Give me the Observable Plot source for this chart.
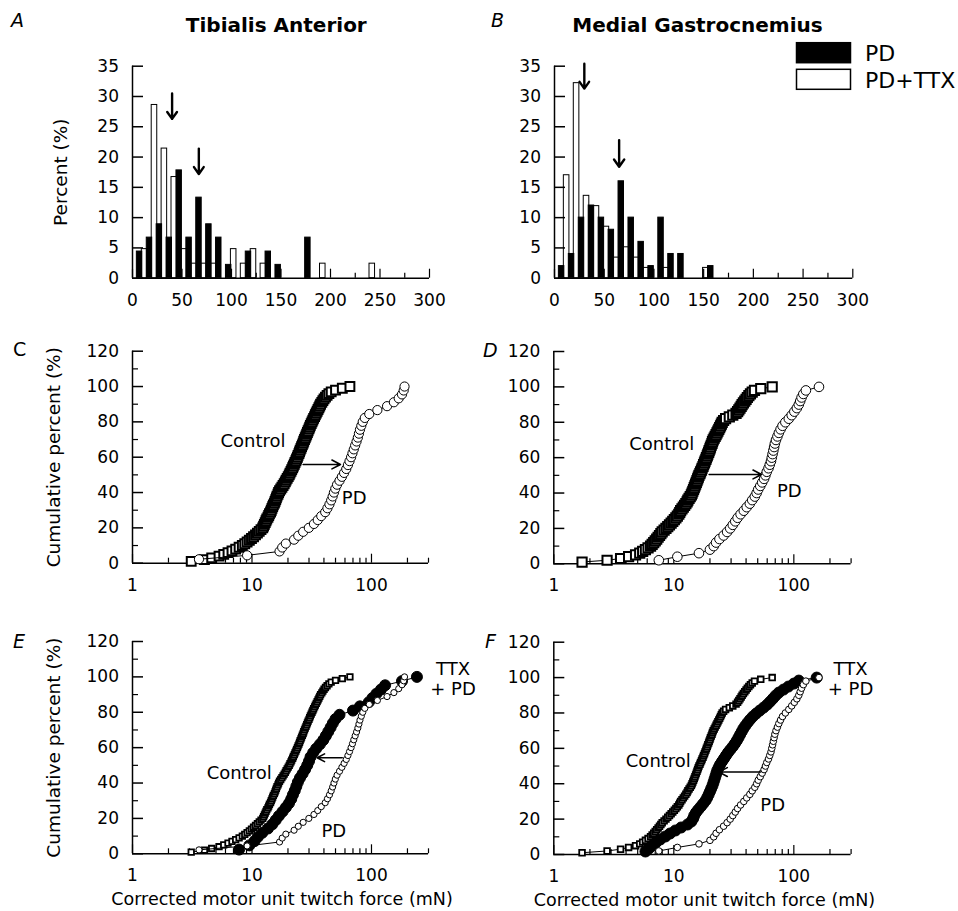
<!DOCTYPE html>
<html><head><meta charset="utf-8">
<script src="https://cdn.jsdelivr.net/npm/d3@7"></script>
<script src="https://cdn.jsdelivr.net/npm/@observablehq/plot@0.6"></script>
<style>
body{margin:0;background:#fff;}
#fig{position:relative;width:958px;height:911px;overflow:hidden;background:#fff;}
</style></head><body><div id="fig"></div>
<script>
// ---------------- DATA ----------------
// Histogram bins (mN, width 10)
const binStarts = [0,10,20,30,40,50,60,70,80,90,100,110,120,130,140,150,160,170,180,190,200,210,220,230,240,250,260,270,280,290];
// Tibialis anterior, percent of units per bin
const taPD  = [4.4,6.7,8.9,6.7,17.8,6.7,13.3,8.9,6.7,2.2,0,4.4,0,4.4,2.2,0,0,6.7,0,0,0,0,0,0,0,0,0,0,0,0];
const taTTX = [0,4.8,28.6,21.4,16.7,4.8,2.4,2.4,2.4,0,4.8,2.4,4.8,2.4,0,0,0,0,0,2.4,0,0,0,0,2.4,0,0,0,0,0];
// Medial gastrocnemius
const mgPD  = [2,4,10,12,10,8,16,10,6,2,10,4,4,0,0,2,0,0,0,0,0,0,0,0,0,0,0,0,0,0];
const mgTTX = [0,17.0,32.2,13.6,11.9,8.5,3.4,5.1,3.4,1.7,0,1.7,0,0,0,1.7,0,0,0,0,0,0,0,0,0,0,0,0,0,0];
// mean arrows (mN) and their vertical extent (%)
const taArrowX = [40, 67], taArrowTop = [30.5, 21.4], taArrowTip = [26.3, 17.2];
const mgArrowX = [30, 65], mgArrowTop = [35.4, 22.8], mgArrowTip = [31.3, 18.4];
const histYTicks = [0,5,10,15,20,25,30,35];
const histXMajor = [0,50,100,150,200,250,300];
const histXMinor = [25,75,125,175,225,275];

// Cumulative distributions: sorted corrected twitch forces (mN)
const controlTA = [3.1,4.0,4.6,5.3,5.8,6.3,6.8,7.3,7.8,8.3,
 8.7,9.1,9.5,9.9,10.3,10.7,11.1,11.5,11.9,12.3,
 12.5,12.7,12.9,13.1,13.3,13.6,13.8,14.0,14.3,14.5,
 14.7,14.9,15.1,15.4,15.6,15.8,16.0,16.2,16.5,16.7,
 17.0,17.4,17.8,18.2,18.6,19.0,19.3,19.7,20.1,20.5,
 20.8,21.2,21.5,21.9,22.2,22.6,22.9,23.3,23.6,24.0,
 24.3,24.7,25.0,25.3,25.7,26.0,26.4,26.8,27.1,27.5,
 27.9,28.3,28.7,29.1,29.5,30.0,30.4,30.8,31.3,31.8,
 32.3,32.8,33.4,33.9,34.5,35.1,35.7,36.3,36.9,37.5,
 38.4,39.2,40.1,41.2,42.5,44.0,46.0,50.0,57.0,66.0];
const pdTA = [3.6,9.1,17.0,17.9,19.2,22.5,24.4,26.8,29.9,33.0,
 35.5,38.0,41.0,42.8,44.5,46.0,47.3,48.5,49.8,51.5,
 54.0,56.5,59.0,61.5,63.5,65.5,67.5,69.3,71.1,73.0,
 75.0,76.9,78.5,80.1,82.2,84.5,87.9,95.8,112,135,
 154,169,180,186,189];
const ttxTA = [7.8,9.5,10.5,11.2,12.2,13.6,14.8,15.8,16.8,18.0,
 19.2,20.4,21.3,22.0,22.8,23.5,24.2,25.2,26.5,27.8,
 29.0,30.0,30.9,32.5,34.5,37.0,39.5,41.5,43.5,45.5,
 47.5,50.0,54.0,70.0,80.0,95.0,102,110,120,130,
 180,240];
const controlMG = [1.72,2.78,3.6,4.2,4.8,5.2,5.5,5.8,6.1,6.4,
 6.6,6.8,7.0,7.2,7.4,7.6,7.8,8.0,8.3,8.6,
 8.9,9.2,9.5,9.8,10.1,10.4,10.7,11.0,11.2,11.4,
 11.7,12.0,12.3,12.6,12.9,13.1,13.4,13.7,14.0,14.2,
 14.4,14.6,14.8,15.0,15.2,15.4,15.6,15.8,16.0,16.2,
 16.5,16.7,17.0,17.2,17.5,17.7,18.0,18.2,18.5,18.7,
 19.0,19.2,19.5,19.7,20.0,20.2,20.5,20.8,21.0,21.3,
 21.7,22.1,22.5,22.9,23.3,23.7,24.1,24.5,24.9,25.3,
 26.0,27.0,29.0,31.0,33.0,34.0,34.8,35.6,36.4,37.1,
 38.0,39.0,40.0,41.0,42.2,43.5,45.0,47.0,53.0,66.0];
const pdMG = [7.5,10.7,16.2,20.0,21.5,22.5,24.0,26.0,27.8,29.5,
 31.0,32.5,34.0,36.0,38.3,40.5,43.0,45.0,47.3,49.0,
 50.5,52.5,54.5,56.5,58.0,59.5,61.5,63.0,64.5,65.5,
 66.5,67.5,68.5,69.5,71.0,73.0,75.0,77.5,80.5,85.0,
 90.8,96.0,101,106,110,113,116,120,126,162];
const ttxMG = [5.8,6.2,6.6,7.1,7.7,8.5,9.3,10.3,11.5,13.0,
 14.0,14.5,14.8,15.3,16.0,16.8,17.6,18.4,19.0,19.5,
 20.0,20.5,21.0,21.4,21.8,22.2,22.6,23.0,23.6,24.3,
 25.2,26.2,27.2,28.3,29.6,31.0,32.3,33.5,34.6,35.7,
 36.8,38.0,39.5,41.2,43.2,45.5,48.5,52.0,56.0,60.0,
 63.5,67.0,70.5,75.0,82.0,90.0,100,110,155];
const cumYMajor = [0,20,40,60,80,100,120];
const cumYMinor = [10,30,50,70,90,110];
const logMajor = [1,10,100];
const logMinor = [2,3,4,5,6,7,8,9,20,30,40,50,60,70,80,90,200,300];
// shift arrows (x1 -> x2 at level y, %)
const arrowC = {x1: 26.8, x2: 55, y: 55.9};
const arrowD = {x1: 19.7, x2: 53.8, y: 50.5};
const arrowE = {x1: 56.9, x2: 35.1, y: 54.3};
const arrowF = {x1: 52.8, x2: 23.7, y: 46.6};
// text annotations (data coordinates)
const labelsC = [{t:"Control", x:10.2, y:69.1}, {t:"PD", x:71.7, y:36.5}];
const labelsD = [{t:"Control", x:7.93, y:67.5}, {t:"PD", x:91.7, y:40.9}];
const labelsE = [{t:"Control", x:7.81, y:45.3}, {t:"PD", x:48.4, y:12.8}, {t:"TTX", x:481, y:104.2}, {t:"+ PD", x:481, y:92.8}];
const labelsF = [{t:"Control", x:7.43, y:52.6}, {t:"PD", x:66.7, y:27.7}, {t:"TTX", x:297, y:104.5}, {t:"+ PD", x:297, y:93.2}];

// ---------------- DRAWING ----------------
const FONT = "DejaVu Sans";
const fig = document.getElementById("fig");

function makePlot(box, frame, x, y, marks) {
  const [bl, bt, bw, bh] = box;
  const [fl, ft, fr, fb] = frame;
  const p = Plot.plot({
    width: bw, height: bh,
    marginLeft: fl - bl, marginTop: ft - bt, marginRight: bl + bw - fr, marginBottom: bt + bh - fb,
    x, y,
    style: {fontFamily: FONT, fontSize: "17px", background: "transparent", overflow: "visible", color: "black"},
    marks: marks.filter(Boolean)
  });
  p.style.position = "absolute";
  p.style.left = bl + "px";
  p.style.top = bt + "px";
  fig.appendChild(p);
}

function histPanel(box, frame, pd, ttx, ax, atop, atip, ylabel) {
  const rows = binStarts.map((b, i) => ({b, pd: pd[i], ttx: ttx[i]}));
  const idx = ax.map((_, i) => i);
  makePlot(box, frame, {type: "linear", domain: [0, 300]}, {type: "linear", domain: [0, 35]}, [
    Plot.rect(rows.filter(d => d.ttx > 0), {x1: d => d.b - 0.6, x2: d => d.b + 5, y1: 0, y2: "ttx", fill: "white", stroke: "black", strokeWidth: 1}),
    Plot.rect(rows.filter(d => d.pd > 0), {x1: d => d.b + 4.4, x2: d => d.b + 9.9, y1: 0, y2: "pd", fill: "black", stroke: "black", strokeWidth: 1}),
    Plot.ruleY([0], {strokeWidth: 1.5}),
    Plot.ruleX([0], {strokeWidth: 1.5}),
    Plot.axisY(histYTicks, {tickSize: -11, fill: "none", label: null, strokeWidth: 1.5}),
    Plot.axisY(histYTicks, {tickSize: 0, tickPadding: 13.5, fontSize: 17, label: null}),
    Plot.axisX(histXMajor, {tickSize: -9, fill: "none", label: null, strokeWidth: 1.2}),
    Plot.axisX(histXMinor, {tickSize: -5, fill: "none", label: null, strokeWidth: 1.2}),
    Plot.axisX(histXMajor, {tickSize: 0, tickPadding: 15.6, fontSize: 17, label: null}),
    Plot.arrow(idx, {x1: i => ax[i], x2: i => ax[i], y1: i => atop[i], y2: i => atip[i], stroke: "black", strokeWidth: 2.4, headLength: 10, headAngle: 70}),
    ylabel ? Plot.text([ylabel], {frameAnchor: "left", textAnchor: "middle", rotate: -90, dx: -71, fontSize: 18.5}) : null
  ]);
}

const ecdf = xs => xs.map((x, i) => ({x, y: (i + 1) / xs.length * 100}));

function cumPanel(box, frame, series, arrow, labels, ylabel, xlabel, xdx) {
  const marks = [
    Plot.ruleY([0], {strokeWidth: 1.5}),
    Plot.ruleX([1], {strokeWidth: 1.5}),
    Plot.axisY(cumYMajor, {tickSize: -11, fill: "none", label: null, strokeWidth: 1.5}),
    Plot.axisY(cumYMinor, {tickSize: -6, fill: "none", label: null, strokeWidth: 1.2}),
    Plot.axisY(cumYMajor, {tickSize: 0, tickPadding: 13.5, fontSize: 17, label: null}),
    Plot.axisX(logMajor, {tickSize: -9, fill: "none", label: null, strokeWidth: 1.2}),
    Plot.axisX(logMinor, {tickSize: -5, fill: "none", label: null, strokeWidth: 1.2}),
    Plot.axisX(logMajor, {tickSize: 0, tickPadding: 15.6, fontSize: 17, label: null, tickFormat: d => String(d)})
  ];
  for (const s of series) {
    const rows = ecdf(s.xs);
    marks.push(Plot.line(rows, {x: "x", y: "y", stroke: "black", strokeWidth: 1}));
    marks.push(Plot.dot(rows, {x: "x", y: "y", symbol: s.symbol, r: s.r, fill: s.fill, stroke: "black", strokeWidth: s.sw}));
  }
  marks.push(Plot.arrow([arrow], {x1: "x1", x2: "x2", y1: "y", y2: "y", stroke: "black", strokeWidth: 1.6, headLength: 9, headAngle: 55}));
  marks.push(Plot.text(labels, {x: "x", y: "y", text: "t", fontSize: 18}));
  if (ylabel) marks.push(Plot.text([ylabel], {frameAnchor: "left", textAnchor: "middle", rotate: -90, dx: -78.7, fontSize: 18.5}));
  if (xlabel) marks.push(Plot.text([xlabel], {frameAnchor: "bottom", textAnchor: "middle", lineAnchor: "bottom", dy: 51.5, dx: xdx, fontSize: 17.5}));
  makePlot(box, frame, {type: "log", domain: [1, 300]}, {type: "linear", domain: [0, 120]}, marks);
}

// Row 1: histograms
histPanel([0, 40, 479, 275], [132, 65.7, 429, 277.7], taPD, taTTX, taArrowX, taArrowTop, taArrowTip, "Percent (%)");
histPanel([479, 40, 479, 275], [554, 65.7, 852.3, 277.7], mgPD, mgTTX, mgArrowX, mgArrowTop, mgArrowTip, null);

// Row 2
cumPanel([0, 320, 479, 280], [132, 350.7, 428, 562.7], [
  {xs: controlTA, symbol: "square", r: 5, fill: "white", sw: 2},
  {xs: pdTA, symbol: "circle", r: 4.6, fill: "white", sw: 1}
], arrowC, labelsC, "Cumulative percent (%)", null, 0);
cumPanel([479, 320, 479, 280], [553.3, 351, 850.6, 563.3], [
  {xs: controlMG, symbol: "square", r: 5.2, fill: "white", sw: 2},
  {xs: pdMG, symbol: "circle", r: 4.8, fill: "white", sw: 1}
], arrowD, labelsD, null, null, 0);

// Row 3
cumPanel([0, 610, 479, 301], [132, 641, 428, 853.3], [
  {xs: controlTA, symbol: "square", r: 3.1, fill: "white", sw: 1.8},
  {xs: ttxTA, symbol: "circle", r: 5.5, fill: "black", sw: 1},
  {xs: pdTA, symbol: "circle", r: 3.1, fill: "white", sw: 1}
], arrowE, labelsE, "Cumulative percent (%)", "Corrected motor unit twitch force (mN)", 1.5);
cumPanel([479, 610, 479, 301], [553.3, 641.7, 850.6, 854], [
  {xs: controlMG, symbol: "square", r: 3.2, fill: "white", sw: 1.8},
  {xs: ttxMG, symbol: "circle", r: 5.5, fill: "black", sw: 1},
  {xs: pdMG, symbol: "circle", r: 3.3, fill: "white", sw: 1}
], arrowF, labelsF, null, "Corrected motor unit twitch force (mN)", 2);

// Overlay: panel letters, titles, legend
const ov = d3.select(fig).append("svg")
  .attr("width", 958).attr("height", 911)
  .style("position", "absolute").style("left", "0px").style("top", "0px")
  .style("font-family", FONT);
const letters = [
  {t: "A", x: 11, y: 26.7, s: "italic"}, {t: "B", x: 491, y: 26.7, s: "italic"},
  {t: "C", x: 13, y: 355.7, s: "normal"}, {t: "D", x: 483, y: 356.7, s: "italic"},
  {t: "E", x: 13, y: 648.3, s: "italic"}, {t: "F", x: 485, y: 648.3, s: "italic"}
];
ov.selectAll("text.letter").data(letters).join("text").attr("class", "letter")
  .attr("x", d => d.x).attr("y", d => d.y).attr("font-size", 19).attr("font-style", d => d.s).text(d => d.t);
const titles = [{t: "Tibialis Anterior", x: 276.3, y: 32.3}, {t: "Medial Gastrocnemius", x: 697.5, y: 32}];
ov.selectAll("text.title").data(titles).join("text").attr("class", "title")
  .attr("x", d => d.x).attr("y", d => d.y).attr("text-anchor", "middle")
  .attr("font-size", 20).attr("font-weight", "bold").text(d => d.t);
const legend = [{t: "PD", fill: "black", y: 42.7, ty: 61}, {t: "PD+TTX", fill: "white", y: 69.3, ty: 87.7}];
ov.selectAll("rect.leg").data(legend).join("rect").attr("class", "leg")
  .attr("x", 796.5).attr("y", d => d.y).attr("width", 54).attr("height", 20)
  .attr("fill", d => d.fill).attr("stroke", "black").attr("stroke-width", 1.5);
ov.selectAll("text.leg").data(legend).join("text").attr("class", "leg")
  .attr("x", 865).attr("y", d => d.ty).attr("font-size", 22).text(d => d.t);
</script></body></html>
